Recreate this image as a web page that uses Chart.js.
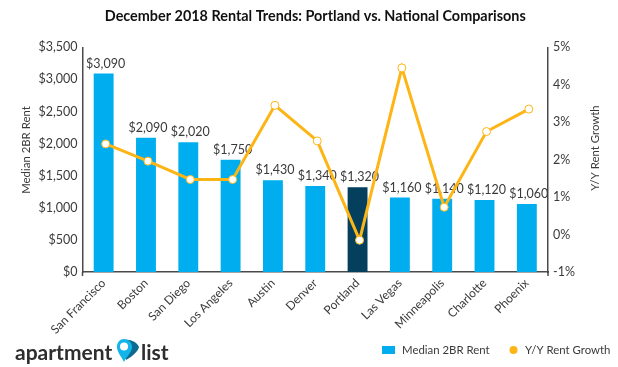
<!DOCTYPE html>
<html>
<head>
<meta charset="utf-8">
<script src="https://cdn.jsdelivr.net/npm/chart.js@4/dist/chart.umd.min.js"></script>
<style>
  html, body { margin: 0; padding: 0; background: #fff; }
  #wrap { position: relative; width: 618px; height: 367px; overflow: hidden; }
  #logo span { position: absolute; top: 337px; font: 700 21px/30px Lato, sans-serif; color: #2e2e2e; white-space: nowrap; }
  #logo svg { position: absolute; left: 116px; top: 339px; }
</style>
</head>
<body>
<div id="wrap">
  <canvas id="chart" width="618" height="367"></canvas>
  <div id="logo">
    <span style="left:15px">apartment</span>
    <svg width="24" height="24" viewBox="0 0 24 24">
      <path d="M9 1 C14 0 21 3 23 8 C22 13 15 18 10 21 Z" fill="#0b6a8f"/>
      <path d="M8 23 C5 17 1 13 1 8 C1 3 4 0 8 0 C12 0 16 3 16 8 C16 13 11 17 8 23 Z" fill="#12b5ea"/>
      <circle cx="8" cy="7.5" r="4" fill="#fff"/>
    </svg>
    <span style="left:141px">list</span>
  </div>
</div>
<script>
const cities = ['San Francisco', 'Boston', 'San Diego', 'Los Angeles', 'Austin', 'Denver', 'Portland', 'Las Vegas', 'Minneapolis', 'Charlotte', 'Phoenix'];
const rents = [3090, 2090, 2020, 1750, 1430, 1340, 1320, 1160, 1140, 1120, 1060];
const growth = [2.42, 1.96, 1.47, 1.47, 3.45, 2.5, -0.15, 4.45, 0.73, 2.75, 3.35];

const FONT = 'Lato, sans-serif';
const INK = '#3a3a3a';
const BLUE = '#00aeef';
const NAVY = '#053f5e';
const GOLD = '#fdb515';
const AXIS = '#4a4a4a';
const barColors = cities.map((c) => (c === 'Portland' ? NAVY : BLUE));
const money = (v) => '$' + v.toLocaleString('en-US');

// the original's line and labels sit about 2px right of the bar centres
const LINE_SHIFT = 0.047;

function sideTitle(ctx, text, x, y) {
  ctx.save();
  ctx.translate(x, y);
  ctx.rotate(-Math.PI / 2);
  ctx.fillText(text, 0, 0);
  ctx.restore();
}

// value labels, axis titles, legend: things Chart.js won't place like the original
const extras = {
  id: 'extras',
  beforeDatasetsDraw(chart) {
    const { ctx, scales } = chart;
    ctx.save();
    ctx.fillStyle = INK;
    ctx.font = '12.5px ' + FONT;
    ctx.textAlign = 'center';
    ctx.textBaseline = 'alphabetic';
    rents.forEach((r, i) => {
      ctx.fillText(money(r), scales.xLine.getPixelForValue(i), scales.y.getPixelForValue(r) - 6);
    });
    // axis lines run a little past the baseline
    ctx.strokeStyle = AXIS;
    ctx.lineWidth = 1.5;
    [scales.x.left, scales.x.right].forEach((x) => {
      ctx.beginPath();
      ctx.moveTo(x, scales.x.top);
      ctx.lineTo(x, scales.x.top + 4);
      ctx.stroke();
    });
    ctx.restore();
  },
  afterDraw(chart) {
    const { ctx } = chart;
    ctx.save();
    ctx.fillStyle = INK;
    ctx.font = '11.4px ' + FONT;
    ctx.textAlign = 'center';
    ctx.textBaseline = 'middle';
    sideTitle(ctx, 'Median 2BR Rent', 26, 150);
    sideTitle(ctx, 'Y/Y Rent Growth', 595, 148);
    ctx.textAlign = 'left';
    ctx.fillText('Median 2BR Rent', 402, 350);
    ctx.fillText('Y/Y Rent Growth', 525, 350);
    ctx.fillStyle = BLUE;
    ctx.fillRect(382, 346, 13, 8);
    ctx.fillStyle = GOLD;
    ctx.beginPath();
    ctx.arc(513.5, 350, 4, 0, Math.PI * 2);
    ctx.fill();
    ctx.restore();
  },
};

new Chart(document.getElementById('chart'), {
  data: {
    labels: cities,
    datasets: [
      {
        type: 'line',
        label: 'Y/Y Rent Growth',
        data: growth.map((v, i) => ({ x: i, y: v })),
        xAxisID: 'xLine',
        yAxisID: 'y2',
        borderColor: GOLD,
        borderWidth: 3,
        tension: 0,
        pointRadius: 4,
        pointBackgroundColor: '#fff',
        pointBorderColor: GOLD,
        pointBorderWidth: 1,
        order: 1,
      },
      {
        type: 'bar',
        label: 'Median 2BR Rent',
        data: rents,
        xAxisID: 'x',
        yAxisID: 'y',
        backgroundColor: barColors,
        barPercentage: 0.47,
        categoryPercentage: 1,
        grouped: false,
        order: 2,
      },
    ],
  },
  options: {
    responsive: false,
    animation: false,
    layout: { padding: 0 },
    plugins: {
      title: {
        display: true,
        fullSize: false,
        text: 'December 2018 Rental Trends: Portland vs. National Comparisons',
        color: '#111',
        font: { family: FONT, size: 14.4, weight: '700' },
        padding: { top: 8, bottom: 22 },
      },
      legend: { display: false },
      tooltip: { enabled: false },
    },
    scales: {
      x: {
        afterFit: (s) => { s.height = 95; },
        grid: { display: false, tickLength: 4, tickColor: AXIS },
        border: { color: AXIS, width: 1.5 },
        ticks: { color: INK, font: { family: FONT, size: 12 }, maxRotation: 45, minRotation: 45, autoSkip: false, padding: 0 },
      },
      xLine: {
        type: 'linear',
        display: false,
        min: -0.5 - LINE_SHIFT,
        max: cities.length - 0.5 - LINE_SHIFT,
      },
      y: {
        position: 'left',
        min: 0,
        max: 3500,
        afterFit: (s) => { s.width = 82.5; },
        grid: { display: false, tickLength: 5, tickColor: AXIS },
        border: { color: AXIS, width: 1.5 },
        ticks: { stepSize: 500, color: INK, font: { family: FONT, size: 12.5 }, padding: 0, callback: (v) => money(v) },
      },
      y2: {
        position: 'right',
        min: -1,
        max: 5,
        afterFit: (s) => { s.width = 70; },
        grid: { display: false, tickLength: 5, tickColor: AXIS },
        border: { color: AXIS, width: 1.5 },
        ticks: { stepSize: 1, color: INK, font: { family: FONT, size: 12.5 }, padding: 0, callback: (v) => v + '%' },
      },
    },
  },
  plugins: [extras],
});
</script>
</body>
</html>
